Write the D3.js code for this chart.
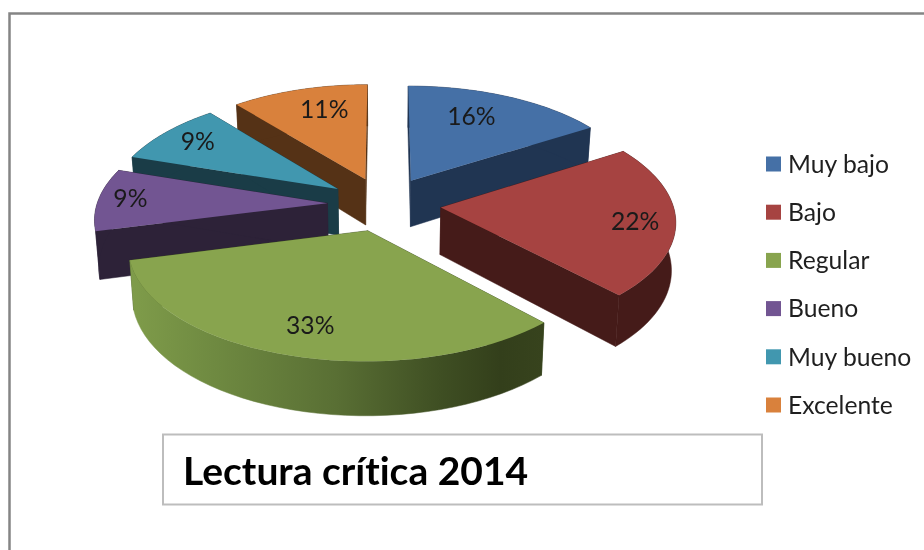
<!DOCTYPE html>
<html><head><meta charset="utf-8">
<script src="https://cdn.jsdelivr.net/npm/d3@7"></script>
<style>html,body{margin:0;padding:0;background:#fff}svg{display:block;filter:blur(0.45px)}text{font-variant-ligatures:none}</style>
</head><body><svg id="c" width="924" height="550"></svg>
<script>
const categories = ["Muy bajo","Bajo","Regular","Bueno","Muy bueno","Excelente"];
const values = [16,22,33,9,9,11];
const topColors = ["#4570a6","#a64341","#88a44e","#725592","#4197af","#d9813c"];
const sideColors = ["#203552","#451b19","#3a4a20","#2d2238","#1a3c47","#553216"];
const paintOrder = [5,0,4,3,1,2];
const titleText = "Lectura crítica 2014";

const svg = d3.select("#c");
const W=924,H=550, cx=384, cy=204, A=232, B=110, persp=0.11, explode=0.246, depth=47, converge=0.015;
const sx=d3.scaleLinear().domain([0,1]).range([0,A]);
const sy=d3.scaleLinear().domain([0,1]).range([0,B]);
function proj(X,Y,z){
  const s=1/(1-persp*Y), f=X<0?0.993+0.014*Y:1;
  return [cx+sx(X)*f*s*(1-converge*z), cy+sy(Y)*s+z*depth*s];
}

// frame
svg.append("path").attr("d",`M9.5,${H}V13.4H${W}`).attr("fill","none").attr("stroke","#858585").attr("stroke-width",2.5);

const defs=svg.append("defs");
const g=defs.append("linearGradient").attr("id","gs").attr("gradientUnits","userSpaceOnUse").attr("x1",130).attr("x2",542).attr("y1",0).attr("y2",0);
[[0,"#7f9c4a"],[.2,"#6f8a41"],[.5,"#596f34"],[.75,"#3f4f23"],[.9,"#333f1b"],[1,"#37431d"]].forEach(s=>g.append("stop").attr("offset",s[0]).attr("stop-color",s[1]));

const arcs=d3.pie().sort(null).value(d=>d)(values);
const line=d3.line().curve(d3.curveLinear);
function slicePts(a){
  const m=(a.startAngle+a.endAngle)/2, ox=explode*Math.sin(m), oy=-explode*Math.cos(m);
  const n=d3.range(0,41).map(i=>a.startAngle+(a.endAngle-a.startAngle)*i/40);
  const P=(t,r,z)=>proj(ox+r*Math.sin(t),oy-r*Math.cos(t),z);
  return {n,P,apex:z=>proj(ox,oy,z)};
}
paintOrder.forEach(i=>{
  const {n,P,apex}=slicePts(arcs[i]);
  const gg=svg.append("g").attr("class","slice");
  const s0=n[0], e0=n[n.length-1];
  [s0,e0].forEach(t=>{
    gg.append("path").attr("d",line([apex(0),P(t,1,0),P(t,1,1),apex(1)])+"Z").attr("fill",sideColors[i]).attr("stroke",sideColors[i]).attr("stroke-width",.5);
  });
  const outer=n.map(t=>P(t,1,0)).concat(n.slice().reverse().map(t=>P(t,1,1)));
  const fill=i===2?"url(#gs)":sideColors[i];
  gg.append("path").attr("d",line(outer)+"Z").attr("fill",fill).attr("stroke",fill).attr("stroke-width",.5);
  const top=[apex(0)].concat(n.map(t=>P(t,1,0)));
  gg.append("path").attr("d",line(top)+"Z").attr("fill",topColors[i]);
});

// data labels
const labelFont="Lato, 'Open Sans', sans-serif";
const labelR=[0.70,0.83,0.79,0.86,0.80,0.72];
const labelA=[0.43,0.535,0.495,0.50,0.49,0.58];
arcs.forEach((a,i)=>{
  const {P}=slicePts(a);
  const p=P(a.startAngle+(a.endAngle-a.startAngle)*labelA[i],labelR[i],0);
  svg.append("text").attr("x",p[0]).attr("y",p[1]).attr("text-anchor","middle").attr("dy","0.26em")
    .attr("font-family",labelFont).attr("font-size",24.7).attr("fill","#1a1a1a").text(d3.format(".0f")(a.value)+"%");
});

// legend
const ly=d3.scalePoint().domain(categories).range([164,405]);
categories.forEach((c,i)=>{
  svg.append("rect").attr("x",766).attr("y",ly(c)-7.5).attr("width",15).attr("height",15).attr("fill",topColors[i]);
  svg.append("text").attr("x",788).attr("y",ly(c)).attr("dy","0.36em").attr("font-family",labelFont).attr("font-size",24.7).attr("fill","#1f1f1f").text(c);
});

// title
svg.append("rect").attr("x",163).attr("y",434.5).attr("width",599).attr("height",70).attr("fill","#fff").attr("stroke","#bdbdbd").attr("stroke-width",2);
svg.append("text").attr("x",183).attr("y",485).attr("font-family",labelFont).attr("font-weight",700).attr("font-size",39).attr("fill","#000").text(titleText);
</script></body></html>
